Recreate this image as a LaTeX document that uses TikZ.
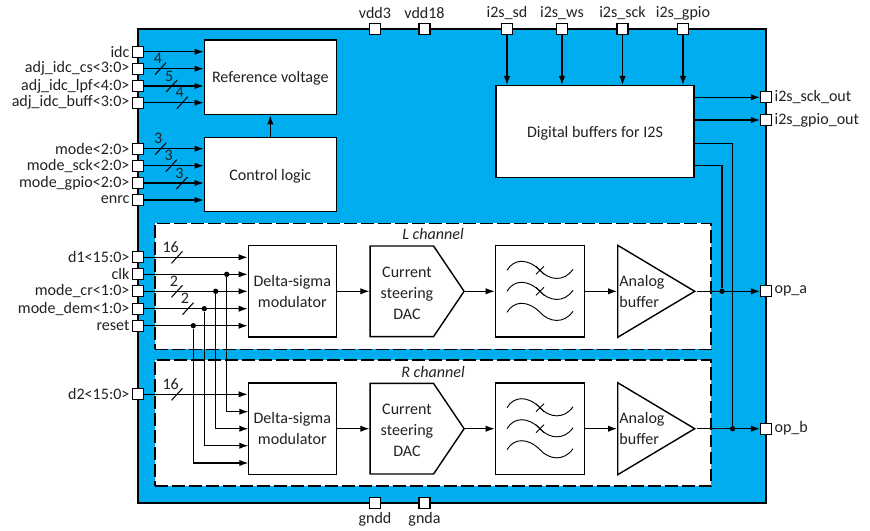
\documentclass[tikz,border=0pt]{standalone}
\usepackage{fontspec}
\setmainfont{Carlito}
\usepackage{tikz}
\usetikzlibrary{shapes.geometric,shapes.symbols,arrows.meta,positioning,calc}
\definecolor{chipblue}{HTML}{00AEEF}
\definecolor{inktext}{HTML}{222222}
\tikzset{
  blockbox/.style={draw=black,fill=white,line width=1.2pt,inner sep=0pt,align=center,text=inktext},
  chanbox/.style={draw=black,fill=white,line width=1pt,dash pattern=on 11pt off 3.5pt},
  portbox/.style={draw=black,fill=white,line width=1pt,minimum size=0.33cm,inner sep=0pt},
  portlabel/.style={inner sep=0pt,text=inktext},
  sig/.style={line width=0.9pt,-{Latex[length=2.7mm,width=1.9mm]}},
  wire/.style={line width=0.9pt},
  jdot/.style={circle,fill=black,minimum size=0.16cm,inner sep=0pt},
  curve/.style={line width=0.8pt}
}
\begin{document}
\begin{tikzpicture}[x=0.03cm,y=-0.03cm,font=\fontsize{13.7}{15}\selectfont]
\useasboundingbox (0,0) rectangle (870,530);
\node[draw=black,fill=chipblue,line width=1.3pt,minimum width=18.84cm,minimum height=14.22cm,inner sep=0pt] (chip) at (452,266) {};
\node[chanbox,minimum width=16.68cm,minimum height=3.78cm,inner sep=0pt] (lbox) at (433,286.2) {};
\node[chanbox,minimum width=16.68cm,minimum height=3.78cm,inner sep=0pt] (rbox) at (433,423) {};
\node[font=\fontsize{13.7}{15}\selectfont\itshape,text=inktext] (ltitle) at (433,234) {L channel};
\node[font=\fontsize{13.7}{15}\selectfont\itshape,text=inktext] (rtitle) at (433,371.5) {R channel};
\node[blockbox,text depth=0pt,minimum width=3.96cm,minimum height=2.24cm] (refv) at (270.3,77.3) {Reference voltage};
\node[blockbox,text depth=0pt,minimum width=3.96cm,minimum height=2.22cm] (ctrl) at (270.3,174.7) {Control logic};
\node[blockbox,text depth=0pt,minimum width=5.94cm,minimum height=2.75cm] (digbuf) at (595,131.5) {Digital buffers for I2S};
\foreach \ch/\ypos in {L/291.3,R/428.7} {
  \node[blockbox,minimum width=2.64cm,minimum height=2.74cm] (ds\ch) at (292.3,\ypos) {Delta-sigma\\[3pt]modulator};
  \node[blockbox,signal,signal to=east,signal from=nowhere,signal pointer angle=112,minimum width=2.82cm,minimum height=2.72cm,anchor=west] (dac\ch) at (369.4,\ypos) {};
  \node[align=center,text=inktext] (dactext\ch) at (407,\ypos+2) {Current\\[3pt]steering\\[3pt]DAC};
  \node[blockbox,minimum width=2.68cm,minimum height=2.74cm] (filt\ch) at (540,\ypos) {};
  \foreach \off in {-21,0,21} {
    \draw[curve] (507,\ypos+\off) .. controls (514,\ypos+\off-12) and (528,\ypos+\off-12) .. (540,\ypos+\off)
      .. controls (549,\ypos+\off+10) and (564,\ypos+\off+12) .. (573,\ypos+\off-1);
  }
  \foreach \off in {-21,0} {
    \draw[curve] (536,\ypos+\off-4) -- (544,\ypos+\off+4);
    \draw[curve] (536,\ypos+\off+4) -- (544,\ypos+\off-4);
  }
  \node[blockbox,isosceles triangle,isosceles triangle stretches,shape border rotate=0,minimum width=2.76cm,minimum height=2.31cm,anchor=lower side] (buf\ch) at (617,\ypos) {};
  \node[align=left,text=inktext] (buftext\ch) at (642,\ypos) {Analog\\[3pt]buffer};
  \draw[sig] (ds\ch.east) -- (dac\ch.west);
  \draw[sig] (dac\ch.east) -- (filt\ch.west);
  \draw[sig] (filt\ch.east) -- (buf\ch.lower side);
}
\foreach \pname/\ypos/\ptext in {idc/51.7/idc,adjcs/68.7/adj\_idc\_cs<3:0>,adjlpf/86/adj\_idc\_lpf<4:0>,adjbuff/102.7/adj\_idc\_buff<3:0>,
  mode/148.7/mode<2:0>,modesck/165.7/mode\_sck<2:0>,modegpio/183/mode\_gpio<2:0>,enrc/200/enrc,
  done/257.3/d1<15:0>,clk/274.3/clk,modecr/291.3/mode\_cr<1:0>,modedem/308.7/mode\_dem<1:0>,reset/325.7/reset,dtwo/394.3/d2<15:0>} {
  \node[portbox] (\pname) at (138,\ypos) {};
  \node[portlabel,left=2.5mm of \pname.center] (\pname text) {\ptext};
}
\foreach \pname/\xpos/\ptext in {vdd3/375/vdd3,vdd18/424.5/vdd18,isd/507/i2s\_sd,iws/562/i2s\_ws,isck/622.5/i2s\_sck,igpio/683/i2s\_gpio} {
  \node[portbox] (\pname) at (\xpos,29) {};
  \node[portlabel] (\pname text) at (\xpos,13) {\ptext};
}
\foreach \pname/\xpos/\ptext in {gndd/375/gndd,gnda/424.5/gnda} {
  \node[portbox] (\pname) at (\xpos,503) {};
  \node[portlabel] (\pname text) at (\xpos,519) {\ptext};
}
\foreach \pname/\ypos/\ptext in {sckout/97.3/i2s\_sck\_out,gpioout/120/i2s\_gpio\_out,opa/291.3/op\_a,opb/428.7/op\_b} {
  \node[portbox] (\pname) at (766,\ypos) {};
  \node[portlabel,right=2.5mm of \pname.center] (\pname text) {\ptext};
}
\foreach \pname in {idc,adjcs,adjlpf,adjbuff} {
  \draw[sig] (\pname.east) -- (\pname -| refv.west);
}
\foreach \pname in {mode,modesck,modegpio,enrc} {
  \draw[sig] (\pname.east) -- (\pname -| ctrl.west);
}
\draw[sig] (ctrl.north) -- (refv.south);
\foreach \pname in {isd,iws,isck,igpio} {
  \draw[sig] (\pname.south) -- (\pname |- digbuf.north);
}
\draw[sig] (sckout -| digbuf.east) -- (sckout.west);
\draw[sig] (gpioout -| digbuf.east) -- (gpioout.west);
\coordinate (digb) at (694,143.3);
\coordinate (diga) at (694,165.7);
\node[jdot] (ja) at (722,291.3) {};
\node[jdot] (jb) at (732.6,428.7) {};
\draw[wire] (digb) -| (jb);
\draw[wire] (diga) -| (ja);
\draw[sig] (bufL.east) -- (opa.west);
\draw[sig] (bufR.east) -- (opb.west);
\node[jdot] (jclk) at (226.7,274.3) {};
\node[jdot] (jcr) at (215.7,291.3) {};
\node[jdot] (jdem) at (204.3,308.7) {};
\node[jdot] (jreset) at (193.3,325.7) {};
\coordinate (clkr) at (248.3,411.7);
\coordinate (crr) at (248.3,428.7);
\coordinate (demr) at (248.3,445.7);
\coordinate (resetr) at (248.3,463);
\foreach \pname in {done,clk,modecr,modedem,reset} {
  \draw[sig] (\pname.east) -- (\pname -| dsL.west);
}
\draw[sig] (dtwo.east) -- (dtwo -| dsR.west);
\draw[sig] (jclk) |- (clkr);
\draw[sig] (jcr) |- (crr);
\draw[sig] (jdem) |- (demr);
\draw[sig] (jreset) |- (resetr);
\foreach \xpos/\ypos/\bits/\shiftx [count=\n] in {160.5/68.7/4/-2.5,171.7/86/5/-2.5,182.3/102.7/4/-2.5,160.7/148.7/3/-2.5,171.3/165.7/3/-2.5,182/183/3/-2.5,177/257.3/16/-6.3,177/291.3/2/-3,188/308.7/2/-3,177/394.3/16/-6.3} {
  \draw[wire] (\xpos-5.5,\ypos+6) -- (\xpos+5.5,\ypos-6);
  \node[inner sep=0pt,text=inktext] (bus\n) at (\xpos+\shiftx,\ypos-10) {\bits};
}
\end{tikzpicture}
\end{document}
